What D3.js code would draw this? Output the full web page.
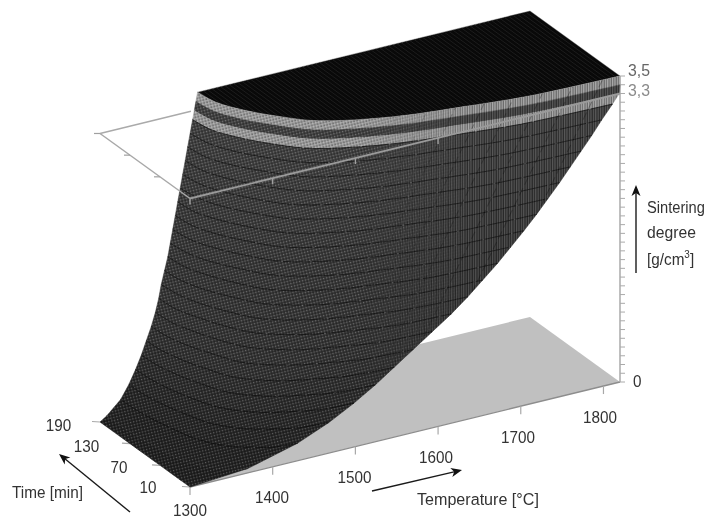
<!DOCTYPE html>
<html><head><meta charset="utf-8">
<script src="https://cdnjs.cloudflare.com/ajax/libs/d3/7.9.0/d3.min.js"></script>
<style>html,body{margin:0;background:#fff}svg{display:block;filter:blur(.35px)}text{font-family:"Liberation Sans",Arial,sans-serif;font-size:17px;fill:#333}</style>
</head><body><svg id="c" width="708" height="520"></svg>
<script>
// Contour temperature (deg C) per density level and time
const timeColumns = [190,160,130,100,70,40,25,15,12,10];
const levels = [3.5,3.4,3.3,3.2,3.05,2.9,2.75,2.6,2.45,2.3,2.15,2.0,1.85,1.7,1.55,1.4,1.25,1.1,0.95,0.8,0.65,0.5,0.35,0.2,0.05,0];
const contourT = [
 [1418,1422,1437,1460,1491,1565,1643,1707,1756,1820],
 [1416,1420,1435,1458,1489,1564,1642,1707,1755,1820],
 [1414,1418,1433,1456,1487,1562,1641,1706,1754,1819],
 [1412,1416,1431,1453,1484,1558,1635,1699,1747,1811],
 [1409,1413,1427,1449,1479,1551,1627,1689,1736,1798],
 [1406,1410,1424,1446,1474,1545,1619,1680,1725,1786],
 [1403,1407,1420,1441,1470,1538,1610,1669,1714,1773],
 [1400,1404,1417,1437,1465,1532,1602,1659,1702,1760],
 [1397,1401,1413,1433,1460,1525,1593,1649,1691,1747],
 [1394,1397,1410,1429,1455,1518,1584,1638,1679,1733],
 [1391,1394,1406,1425,1450,1511,1575,1627,1667,1719],
 [1388,1391,1403,1421,1445,1504,1565,1616,1653,1704],
 [1385,1388,1399,1417,1440,1496,1555,1603,1640,1688],
 [1382,1385,1396,1412,1434,1488,1544,1591,1626,1672],
 [1378,1381,1391,1407,1428,1479,1533,1577,1610,1654],
 [1374,1377,1386,1401,1421,1470,1521,1563,1594,1636],
 [1371,1373,1383,1396,1415,1461,1508,1547,1577,1616],
 [1367,1369,1378,1390,1408,1450,1494,1530,1557,1593],
 [1362,1364,1372,1384,1399,1438,1478,1512,1537,1570],
 [1356,1358,1365,1376,1390,1426,1463,1494,1516,1547],
 [1350,1352,1358,1368,1381,1414,1447,1475,1496,1524],
 [1343,1345,1350,1359,1371,1400,1430,1455,1473,1498],
 [1335,1336,1341,1349,1359,1384,1409,1431,1447,1468],
 [1325,1326,1330,1336,1344,1363,1384,1401,1413,1430],
 [1308,1309,1311,1314,1319,1331,1343,1353,1360,1370],
 [1300,1300,1300,1300,1300,1300,1300,1300,1300,1300]
];
const tempTicks = [1300,1400,1500,1600,1700,1800];
const timeTicks = [10,70,130,190];
const densityTicks = d3.range(0,36).map(d=>d/10);
const lightBands = [[3.5,3.4],[3.3,3.2]];
const refLevel = 3.3, topLevel = 3.5;

const xT = d3.scaleLinear().domain([1300,1820]).range([190,620]);
const yT = d3.scaleLinear().domain([1300,1820]).range([487,382]);
const xt = d3.scaleLinear().domain([10,190]).range([0,-90]);
const yt = d3.scaleLinear().domain([10,190]).range([0,-65]);
const yz = d3.scaleLinear().domain([0,3.5]).range([0,-306]);
const P = (T,t,z)=>[xT(T)+xt(t), yT(T)+yt(t)+yz(z)];
const svg = d3.select('#c');
const defs = svg.append('defs');
const path = d3.line().curve(d3.curveCatmullRom.alpha(.5));
const straight = d3.line();
const row = i => timeColumns.map((t,j)=>P(contourT[i][j],t,levels[i]));

// textures
const specks = defs.append('pattern').attr('id','specks').attr('width',3).attr('height',3).attr('patternUnits','userSpaceOnUse').attr('patternTransform','rotate(-14)');
specks.append('rect').attr('width',1.2).attr('height',1.2).attr('fill','#fff').attr('opacity',.26);
specks.append('rect').attr('x',1.5).attr('y',1.5).attr('width',1.3).attr('height',1.3).attr('fill','#000').attr('opacity',.5);
const stripes = defs.append('pattern').attr('id','stripes').attr('width',2.4).attr('height',4).attr('patternUnits','userSpaceOnUse');
stripes.append('rect').attr('width',1.2).attr('height',4).attr('fill','#fff').attr('opacity',.14);
stripes.append('rect').attr('x',1.2).attr('width',1.2).attr('height',4).attr('fill','#000').attr('opacity',.35);
const moire = defs.append('pattern').attr('id','moire').attr('width',24).attr('height',12).attr('patternUnits','userSpaceOnUse').attr('patternTransform','rotate(26)');
moire.append('rect').attr('width',.8).attr('height',8).attr('fill','#000').attr('opacity',.35);
const g1 = defs.append('linearGradient').attr('id','gl').attr('gradientUnits','userSpaceOnUse').attr('x1',360).attr('x2',470).attr('y1',0).attr('y2',0);
g1.append('stop').attr('offset',0).attr('stop-color','#fff');g1.append('stop').attr('offset',1).attr('stop-color','#000');
const g2 = defs.append('linearGradient').attr('id','gr').attr('gradientUnits','userSpaceOnUse').attr('x1',360).attr('x2',470).attr('y1',0).attr('y2',0);
g2.append('stop').attr('offset',0).attr('stop-color','#000');g2.append('stop').attr('offset',1).attr('stop-color','#fff');
defs.append('mask').attr('id','ml').attr('maskUnits','userSpaceOnUse').attr('x',0).attr('y',0).attr('width',708).attr('height',520).append('rect').attr('width',708).attr('height',520).attr('fill','url(#gl)');
defs.append('mask').attr('id','mr').attr('maskUnits','userSpaceOnUse').attr('x',0).attr('y',0).attr('width',708).attr('height',520).append('rect').attr('width',708).attr('height',520).attr('fill','url(#gr)');

// floor
svg.append('path').attr('fill','#c0c0c0').attr('d',straight([P(1300,10,0),P(1820,10,0),P(1820,190,0),P(1300,190,0)])+'Z');
svg.append('path').attr('stroke','#8d8d8d').attr('stroke-width',1.4).attr('fill','none').attr('d',straight([P(1300,10,0),P(1820,10,0)]));
const tick=(a,dx,dy,c='#a8a8a8',w=1.2)=>svg.append('line').attr('x1',a[0]).attr('y1',a[1]).attr('x2',a[0]+dx).attr('y2',a[1]+dy).attr('stroke',c).attr('stroke-width',w);
tempTicks.forEach(T=>tick(P(T,10,0),0,8));
timeTicks.forEach(t=>tick(P(1300,t,0),-8,-.5));

// density axis
svg.append('path').attr('stroke','#aaa').attr('stroke-width',1.5).attr('d',straight([P(1820,10,0),P(1820,10,3.5)]));
densityTicks.forEach(z=>tick(P(1820,10,z),5,0,'#aaa',1));

// reference plane: back edge goes behind the surface
svg.append('path').attr('stroke','#aaa').attr('stroke-width',1.5).attr('fill','none').attr('d',straight([P(1300,190,refLevel),P(1410,190,refLevel)]));

// plateau
const plateauD = path(row(0))+'L'+P(1820,190,topLevel).join(',')+'Z';
defs.append('clipPath').attr('id','cp').append('path').attr('d',plateauD);
svg.append('path').attr('d',plateauD).attr('fill','#090909').attr('stroke','#555').attr('stroke-width',.4);
svg.append('g').attr('clip-path','url(#cp)').selectAll('line').data(d3.range(1300,1820,5.2)).join('line')
 .attr('x1',T=>P(T,10,topLevel)[0]).attr('y1',T=>P(T,10,topLevel)[1])
 .attr('x2',T=>P(T,190,topLevel)[0]).attr('y2',T=>P(T,190,topLevel)[1])
 .attr('stroke','#1f1f1f').attr('stroke-width',.9);

// surface strips
const grey = d3.scaleLinear().domain([0,1,3.5]).range(['#1f1f1f','#333333','#434343']);
const isLight = (a,b)=>lightBands.some(l=>l[0]===a&&l[1]===b);
const strip = i => { const a=row(i), b=row(i+1).slice().reverse(); return path(a)+'L'+path(b).slice(1)+'Z'; };
const stripIdx = d3.range(levels.length-1);
svg.append('g').selectAll('path').data(stripIdx).join('path').attr('d',strip)
 .attr('fill',i=>isLight(levels[i],levels[i+1])?'#a0a0a0':grey(levels[i]))
 .attr('stroke',i=>isLight(levels[i],levels[i+1])?'#a0a0a0':grey(levels[i])).attr('stroke-width',.5);
defs.append('clipPath').attr('id','cs').selectAll('path').data(stripIdx).join('path').attr('d',strip);
const tex = svg.append('g').attr('clip-path','url(#cs)');
tex.append('g').attr('mask','url(#ml)').append('rect').attr('width',708).attr('height',520).attr('fill','url(#specks)');
const texR = tex.append('g').attr('mask','url(#mr)');
texR.append('rect').attr('width',708).attr('height',520).attr('fill','url(#stripes)');
texR.append('rect').attr('width',708).attr('height',520).attr('fill','url(#moire)');
svg.append('g').selectAll('path').data(d3.range(3,levels.length-2)).join('path')
 .attr('d',i=>path(row(i))).attr('fill','none').attr('stroke','#000').attr('stroke-width',.85).attr('opacity',.7).attr('stroke-dasharray','27 2');

// reference plane: visible edges
svg.append('path').attr('stroke','#a8a8a8').attr('stroke-width',1.5).attr('fill','none').attr('d',straight([P(1300,190,refLevel),P(1300,10,refLevel)]));
svg.append('path').attr('stroke','#9a9a9a').attr('stroke-width',1.9).attr('fill','none').attr('d',straight([P(1300,10,refLevel),P(1820,10,refLevel)]));
tempTicks.forEach(T=>tick(P(T,10,refLevel),0,6,'#a0a0a0',1.4));
timeTicks.slice(1).forEach(t=>tick(P(1300,t,refLevel),-6,0,'#a0a0a0',1.2));

// labels: squeezed horizontally to the measured width
const label=(s,x,y,anchor,width,fill)=>{
 const el=svg.append('text').attr('text-anchor',anchor).text(s);
 if(fill) el.style('fill',fill);
 el.attr('transform',`translate(${x},${y}) scale(${width/el.node().getComputedTextLength()},1)`);
 return el;
};
const tempPos=[[190,516],[272,503],[354.5,483],[436,463],[518,443],[600,423]];
tempTicks.forEach((T,i)=>label(T,tempPos[i][0],tempPos[i][1],'middle',34));
const timePos=[[148,493],[119,473],[86.5,452],[58.5,431]];
timeTicks.forEach((t,i)=>label(t,timePos[i][0],timePos[i][1],'middle',i<2?17:25.5));
label('3,5',628,76,'start',22,'#666');
label('3,3',628,96,'start',22,'#8a8a8a');
label('0',633,387,'start',8.5);
label('Time [min]',12,498,'start',71);
label('Temperature [°C]',417,505,'start',122);
label('Sintering',647,213,'start',58);
label('degree',647,238,'start',49);
const u=svg.append('text').attr('transform','translate(647,265) scale(.9,1)').text('[g/cm');
u.append('tspan').attr('dy',-7).style('font-size','11px').text('3');
u.append('tspan').attr('dy',7).text(']');

// arrows
const arrow=(x1,y1,x2,y2)=>{
 const a=Math.atan2(y2-y1,x2-x1),L=11,W=4.5;
 svg.append('line').attr('x1',x1).attr('y1',y1).attr('x2',x2-Math.cos(a)*6).attr('y2',y2-Math.sin(a)*6).attr('stroke','#1a1a1a').attr('stroke-width',1.4);
 const bx=x2-Math.cos(a)*L,by=y2-Math.sin(a)*L,nx=-Math.sin(a)*W,ny=Math.cos(a)*W;
 svg.append('path').attr('fill','#111').attr('d',`M${x2},${y2}L${bx+nx},${by+ny}L${x2-Math.cos(a)*8},${y2-Math.sin(a)*8}L${bx-nx},${by-ny}Z`);
};
arrow(636,273,636,185);
arrow(130,512,59,454);
arrow(372,491,462,470);
</script></body></html>
